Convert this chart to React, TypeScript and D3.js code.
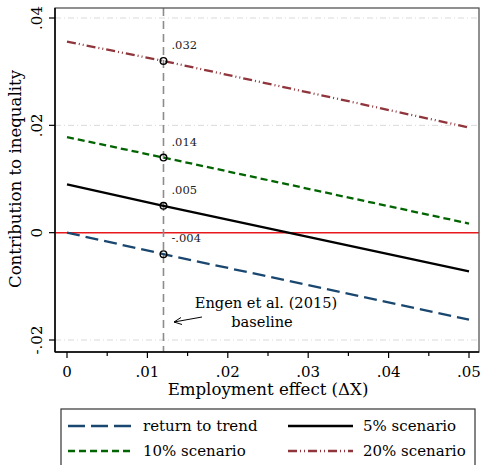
import React, { useEffect, useRef } from "react";
import * as d3 from "d3";

// x positions read for each line: start, the Engen baseline point, end
const xVals = [0, 0.012, 0.05];
const returnToTrend = [0, -0.004, -0.0162];
const scen5 = [0.009, 0.005, -0.0072];
const scen10 = [0.0178, 0.014, 0.0017];
const scen20 = [0.0356, 0.032, 0.0196];

const baselineX = 0.012;
const markerVals = [0.032, 0.014, 0.005, -0.004];
const markerLabels = [".032", ".014", ".005", "-.004"];

const xTicks = [0, 0.01, 0.02, 0.03, 0.04, 0.05];
const xTickLabels = ["0", ".01", ".02", ".03", ".04", ".05"];
const xMinorTicks = [0.005, 0.015, 0.025, 0.035, 0.045];
const yTicks = [-0.02, 0, 0.02, 0.04];
const yTickLabels = ["-.02", "0", ".02", ".04"];

const series = [
  { name: "return to trend", values: returnToTrend, color: "#1a476f", dash: "13 6", legendDash: "17 6" },
  { name: "5% scenario", values: scen5, color: "#000000", dash: "", legendDash: "" },
  { name: "10% scenario", values: scen10, color: "#006400", dash: "7 4", legendDash: "7 4" },
  { name: "20% scenario", values: scen20, color: "#90353b", dash: "9 3 1 3 1 3", legendDash: "9 3 1 3 1 3" },
];

const W = 481;
const H = 465;
const font = "'DejaVu Serif', 'Liberation Serif', serif";

const App = () => {
  const svgRef = useRef<SVGSVGElement | null>(null);

  useEffect(() => {
    const svg = d3.select(svgRef.current);
    svg.selectAll("*").remove();

    const frame = { left: 55, right: 479, top: 8, bottom: 352 };
    const x = d3.scaleLinear().domain([0, 0.05]).range([67, 469]);
    const y = d3.scaleLinear().domain([-0.02, 0.04]).range([340, 18]);

    svg.append("rect").attr("width", W).attr("height", H).attr("fill", "#fff");

    // grid lines
    svg.selectAll(".grid")
      .data(yTicks.filter(v => v !== 0))
      .enter()
      .append("line")
      .attr("x1", frame.left)
      .attr("x2", frame.right)
      .attr("y1", d => y(d))
      .attr("y2", d => y(d))
      .attr("stroke", "#d9d9d9")
      .attr("stroke-width", 1)
      .attr("stroke-dasharray", "6 3 1 3");

    // zero line
    svg.append("line")
      .attr("x1", frame.left)
      .attr("x2", frame.right)
      .attr("y1", y(0))
      .attr("y2", y(0))
      .attr("stroke", "#e8191c")
      .attr("stroke-width", 1.5);

    // baseline vertical line
    svg.append("line")
      .attr("x1", x(baselineX))
      .attr("x2", x(baselineX))
      .attr("y1", frame.top)
      .attr("y2", frame.bottom)
      .attr("stroke", "#8c8c8c")
      .attr("stroke-width", 1.6)
      .attr("stroke-dasharray", "8 5");

    const line = d3.line<number>()
      .x((_, i) => x(xVals[i]))
      .y(d => y(d));

    series.forEach(s => {
      svg.append("path")
        .datum(s.values)
        .attr("fill", "none")
        .attr("stroke", s.color)
        .attr("stroke-width", 2.3)
        .attr("stroke-dasharray", s.dash || null)
        .attr("d", line as any);
    });

    // markers + labels
    svg.selectAll(".mk")
      .data(markerVals)
      .enter()
      .append("circle")
      .attr("cx", x(baselineX))
      .attr("cy", d => y(d))
      .attr("r", 3.3)
      .attr("fill", "none")
      .attr("stroke", "#000")
      .attr("stroke-width", 1.4);

    svg.selectAll(".mkl")
      .data(markerVals)
      .enter()
      .append("text")
      .attr("x", x(baselineX) + 8)
      .attr("y", d => y(d) - 12)
      .attr("font-family", font)
      .attr("font-size", 11.5)
      .attr("fill", "#222")
      .text((_, i) => markerLabels[i]);

    // frame
    svg.append("rect")
      .attr("x", frame.left)
      .attr("y", frame.top)
      .attr("width", frame.right - frame.left)
      .attr("height", frame.bottom - frame.top)
      .attr("fill", "none")
      .attr("stroke", "#555")
      .attr("stroke-width", 1.3);
    svg.append("line")
      .attr("x1", frame.left).attr("x2", frame.left)
      .attr("y1", frame.top).attr("y2", frame.bottom)
      .attr("stroke", "#000").attr("stroke-width", 1.5);
    svg.append("line")
      .attr("x1", frame.left).attr("x2", frame.right)
      .attr("y1", frame.bottom).attr("y2", frame.bottom)
      .attr("stroke", "#000").attr("stroke-width", 1.5);

    // x axis ticks
    svg.selectAll(".xt")
      .data(xTicks.concat(xMinorTicks))
      .enter()
      .append("line")
      .attr("x1", d => x(d))
      .attr("x2", d => x(d))
      .attr("y1", frame.bottom)
      .attr("y2", d => frame.bottom + (xTicks.includes(d) ? 6 : 4))
      .attr("stroke", "#000")
      .attr("stroke-width", 1.2);

    svg.selectAll(".xl")
      .data(xTicks)
      .enter()
      .append("text")
      .attr("x", d => x(d))
      .attr("y", 377)
      .attr("text-anchor", "middle")
      .attr("font-family", font)
      .attr("font-size", 15)
      .text((_, i) => xTickLabels[i]);

    svg.append("text")
      .attr("x", 268)
      .attr("y", 395)
      .attr("text-anchor", "middle")
      .attr("font-family", font)
      .attr("font-size", 16.6)
      .text("Employment effect (ΔX)");

    // y axis ticks
    svg.selectAll(".yt")
      .data(yTicks)
      .enter()
      .append("line")
      .attr("x1", frame.left - 6)
      .attr("x2", frame.left)
      .attr("y1", d => y(d))
      .attr("y2", d => y(d))
      .attr("stroke", "#000")
      .attr("stroke-width", 1.2);

    svg.selectAll(".yl")
      .data(yTicks)
      .enter()
      .append("text")
      .attr("transform", d => `translate(42, ${y(d)}) rotate(-90)`)
      .attr("text-anchor", "middle")
      .attr("font-family", font)
      .attr("font-size", 15)
      .text((_, i) => yTickLabels[i]);

    svg.append("text")
      .attr("transform", `translate(21, 179) rotate(-90)`)
      .attr("text-anchor", "middle")
      .attr("font-family", font)
      .attr("font-size", 16.6)
      .text("Contribution to inequality");

    // annotation
    svg.append("text")
      .attr("x", 266)
      .attr("y", 308)
      .attr("text-anchor", "middle")
      .attr("font-family", font)
      .attr("font-size", 14.6)
      .text("Engen et al. (2015)");
    svg.append("text")
      .attr("x", 262)
      .attr("y", 327)
      .attr("text-anchor", "middle")
      .attr("font-family", font)
      .attr("font-size", 14.6)
      .text("baseline");

    svg.append("line")
      .attr("x1", 202).attr("y1", 317)
      .attr("x2", 174).attr("y2", 322)
      .attr("stroke", "#000").attr("stroke-width", 1);
    svg.append("path")
      .attr("d", "M181,317.5 L174,322 L182,324.5")
      .attr("fill", "none")
      .attr("stroke", "#000")
      .attr("stroke-width", 1);

    // legend
    svg.append("rect")
      .attr("x", 61)
      .attr("y", 409)
      .attr("width", 414)
      .attr("height", 70)
      .attr("fill", "#fff")
      .attr("stroke", "#333")
      .attr("stroke-width", 1.2);

    const legendPos = [
      { x: 68, y: 426 },
      { x: 288, y: 426 },
      { x: 68, y: 451 },
      { x: 288, y: 451 },
    ];
    series.forEach((s, i) => {
      const p = legendPos[i];
      svg.append("line")
        .attr("x1", p.x).attr("x2", p.x + 65)
        .attr("y1", p.y).attr("y2", p.y)
        .attr("stroke", s.color)
        .attr("stroke-width", 2.3)
        .attr("stroke-dasharray", s.legendDash || null);
      svg.append("text")
        .attr("x", p.x + 75)
        .attr("y", p.y + 5)
        .attr("font-family", font)
        .attr("font-size", 15)
        .text(s.name);
    });
  }, []);

  return (
    <svg
      ref={svgRef}
      width={W}
      height={H}
      style={{ position: "absolute", left: 0, top: 0 }}
    />
  );
};

export default App;
